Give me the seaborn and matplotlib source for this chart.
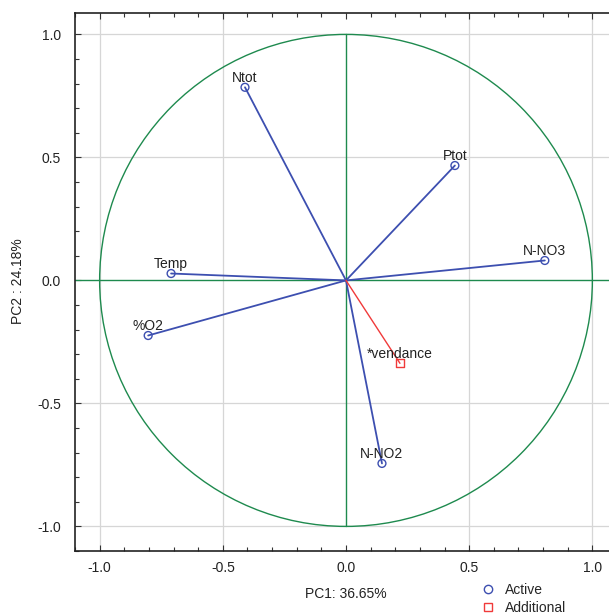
import numpy as np
import pandas as pd
import seaborn as sns
import matplotlib
matplotlib.use("Agg")
import matplotlib.pyplot as plt
from matplotlib.patches import Circle
from matplotlib.lines import Line2D
from matplotlib.ticker import MultipleLocator

# Data
active_vars = ["Ntot", "Ptot", "N-NO3", "Temp", "%O2", "N-NO2"]
active_pc1 = [-0.41, 0.442, 0.807, -0.71, -0.803, 0.146]
active_pc2 = [0.785, 0.467, 0.081, 0.028, -0.224, -0.744]
add_vars = ["*vendance"]
add_pc1 = [0.219]
add_pc2 = [-0.337]
xlabel_txt = "PC1: 36.65%"
ylabel_txt = "PC2 : 24.18%"
ticks = [-1.0, -0.5, 0.0, 0.5, 1.0]
tick_labels = ["-1.0", "-0.5", "0.0", "0.5", "1.0"]

sns.set_style("white")
plt.rcParams["font.family"] = ["Liberation Sans", "DejaVu Sans"]

BLUE = "#3D4FB0"
RED = "#F03A3A"
GREEN = "#1E8A4E"
GRID = "#D6D6D6"

fig = plt.figure(figsize=(6.09, 6.14), dpi=100)
ax = fig.add_axes([75 / 609, 63 / 614, 542 / 609, 538 / 614])
ax.set_xlim(-1.1, 1.1)
ax.set_ylim(-1.1, 1.087)

# grid
for t in [-1.0, -0.5, 0.5, 1.0]:
    ax.axvline(t, color=GRID, lw=0.9, zorder=0)
    ax.axhline(t, color=GRID, lw=0.9, zorder=0)

# unit circle and zero axes
ax.add_patch(Circle((0, 0), 1.0, fill=False, ec=GREEN, lw=1.0, zorder=1))
ax.axvline(0, color=GREEN, lw=1.0, ymin=(-1 + 1.1) / 2.187, ymax=(1 + 1.1) / 2.187, zorder=1)
ax.axhline(0, color=GREEN, lw=1.0, xmin=0, xmax=1, zorder=1)

act = pd.DataFrame({"var": active_vars, "x": active_pc1, "y": active_pc2})
add = pd.DataFrame({"var": add_vars, "x": add_pc1, "y": add_pc2})

# vectors
for _, r in act.iterrows():
    ax.plot([0, r.x], [0, r.y], color=BLUE, lw=1.3, zorder=2)
for _, r in add.iterrows():
    ax.plot([0, r.x], [0, r.y], color=RED, lw=1.0, zorder=2)

sns.scatterplot(data=act, x="x", y="y", ax=ax, marker="o", s=32,
                facecolor="none", edgecolor=BLUE, linewidth=1.0, zorder=3, legend=False)
sns.scatterplot(data=add, x="x", y="y", ax=ax, marker="s", s=32,
                facecolor="none", edgecolor=RED, linewidth=1.0, zorder=3, legend=False)

for _, r in pd.concat([act, add]).iterrows():
    ax.annotate(r["var"], (r.x, r.y), xytext=(0, 2), textcoords="offset points",
                ha="center", va="bottom", fontsize=10, color="#222222", zorder=4)

ax.set_xticks(ticks)
ax.set_xticklabels(tick_labels)
ax.set_yticks(ticks)
ax.set_yticklabels(tick_labels)
ax.xaxis.set_minor_locator(MultipleLocator(0.1))
ax.yaxis.set_minor_locator(MultipleLocator(0.1))
ax.tick_params(which="both", direction="in", top=True, bottom=True, left=True, right=False,
               color="#333333", labelsize=10, labelcolor="#222222")
ax.tick_params(which="major", length=4, width=0.8, pad=10)
ax.tick_params(axis="x", which="major", pad=7)
ax.tick_params(which="minor", length=3, width=0.8)
for s in ["left", "bottom", "top"]:
    ax.spines[s].set_color("#222222")
    ax.spines[s].set_linewidth(1.2)
ax.spines["right"].set_visible(False)

ax.set_xlabel(xlabel_txt, fontsize=10, color="#222222")
ax.set_ylabel(ylabel_txt, fontsize=10, color="#222222")
ax.xaxis.set_label_coords((346 - 75) / 542, -36 / 538)
ax.yaxis.set_label_coords(-50 / 542, (551 - 281) / 538)

handles = [
    Line2D([], [], marker="o", ls="none", mfc="none", mec=BLUE, ms=6, mew=1.0),
    Line2D([], [], marker="s", ls="none", mfc="none", mec=RED, ms=6, mew=1.0),
]
fig.legend(handles, ["Active", "Additional"], loc="upper left",
           bbox_to_anchor=(480 / 609, 1 - 583 / 614), frameon=False, fontsize=10,
           handletextpad=0.6, labelspacing=0.3, handlelength=1.2, borderaxespad=0, borderpad=0)

fig.savefig("out.png", dpi=100)
